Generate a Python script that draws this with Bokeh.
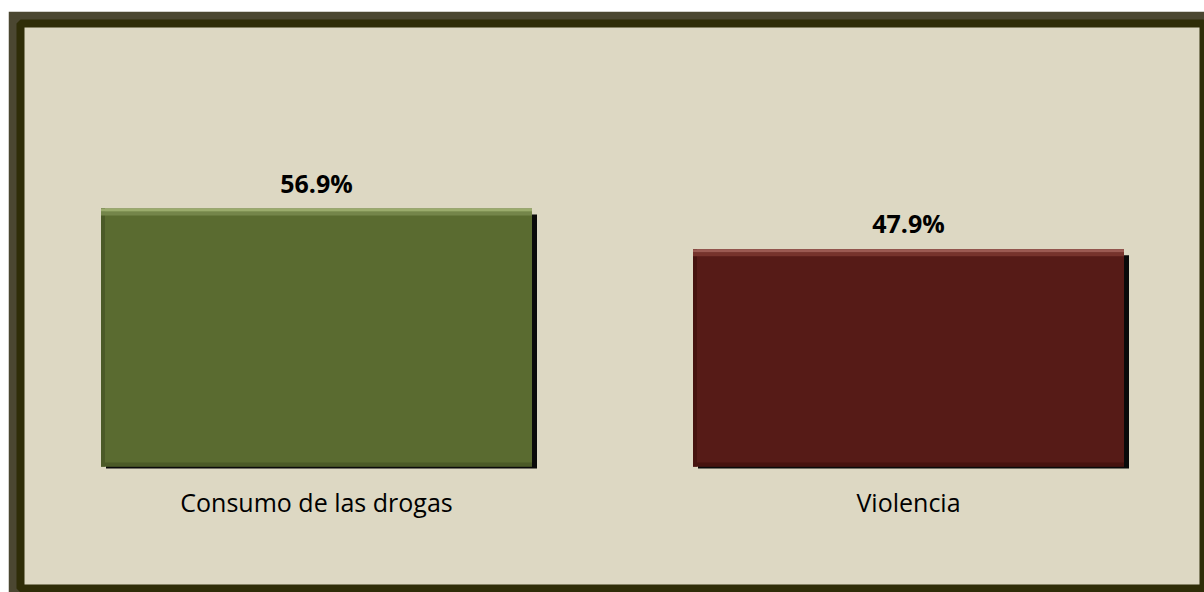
from bokeh.plotting import figure
from bokeh.models import ColumnDataSource, FactorRange, Range1d
from bokeh.transform import dodge
from bokeh.core.properties import value
from bokeh.embed import file_html
from bokeh.resources import INLINE

categories = ["Consumo de las drogas", "Violencia"]
values = [56.9, 47.9]
labels = ["56.9%", "47.9%"]
bar_colors = ["#5a6b30", "#561b17"]
highlight_colors = ["#9aab6c", "#9b5a52"]
mid_colors = ["#74854a", "#76332c"]
dark_colors = ["#4b5a27", "#46130f"]

PX = 258 / 56.9  # pixels per unit
src = ColumnDataSource(dict(
    cat=categories, val=values, lab=labels, color=bar_colors,
    hi=highlight_colors, mid=mid_colors, dark=dark_colors,
    shadow_top=[v - 6 / PX for v in values],
    hi_bot=[v - 3 / PX for v in values],
    mid_bot=[v - 7 / PX for v in values],
))

p = figure(width=1196, height=581, output_backend="svg", toolbar_location=None,
           x_range=FactorRange(*categories, range_padding=0),
           y_range=Range1d(-26.9, 97.7),
           min_border_left=12, min_border_top=12, min_border_right=0, min_border_bottom=4,
           styles={"margin-left": "8px", "margin-top": "11px"})
p.xaxis.visible = False
p.yaxis.visible = False
p.grid.visible = False
p.background_fill_color = "#ddd8c3"
p.border_fill_color = "#4b4731"
p.outline_line_color = "#2f2d08"
p.outline_line_width = 8

W = 431 / 592
# shadow
p.vbar(x=dodge("cat", 5 / 592, range=p.x_range), top="shadow_top", bottom=-2 / PX,
       width=W, fill_color="#0a0a0a", line_color=None, source=src)
# bar body
p.vbar(x="cat", top="val", bottom=0, width=W, fill_color="color", line_color=None, source=src)
# bevel: bottom and left darker edges
p.vbar(x="cat", top=4 / PX, bottom=0, width=W, fill_color="dark", line_color=None, source=src)
p.vbar(x=dodge("cat", -W / 2 + 2 / 592, range=p.x_range), top="val", bottom=0, width=4 / 592,
       fill_color="dark", line_color=None, source=src)
# bevel: top highlights
p.vbar(x="cat", top="hi_bot", bottom="mid_bot", width=W, fill_color="mid", line_color=None, source=src)
p.vbar(x="cat", top="val", bottom="hi_bot", width=W, fill_color="hi", line_color=None, source=src)

# value labels
p.text(x="cat", y="val", text="lab", source=src, text_align="center", text_baseline="alphabetic",
       y_offset=-26, text_font=value("Open Sans"), text_font_style="bold",
       text_font_size="25px", text_color="#000000")
# category labels
p.text(x="cat", y=0, text="cat", source=src, text_align="center", text_baseline="alphabetic",
       y_offset=35, text_font=value("Open Sans"), text_font_size="25px", text_color="#000000")

open("out.html", "w").write(file_html(p, INLINE))
